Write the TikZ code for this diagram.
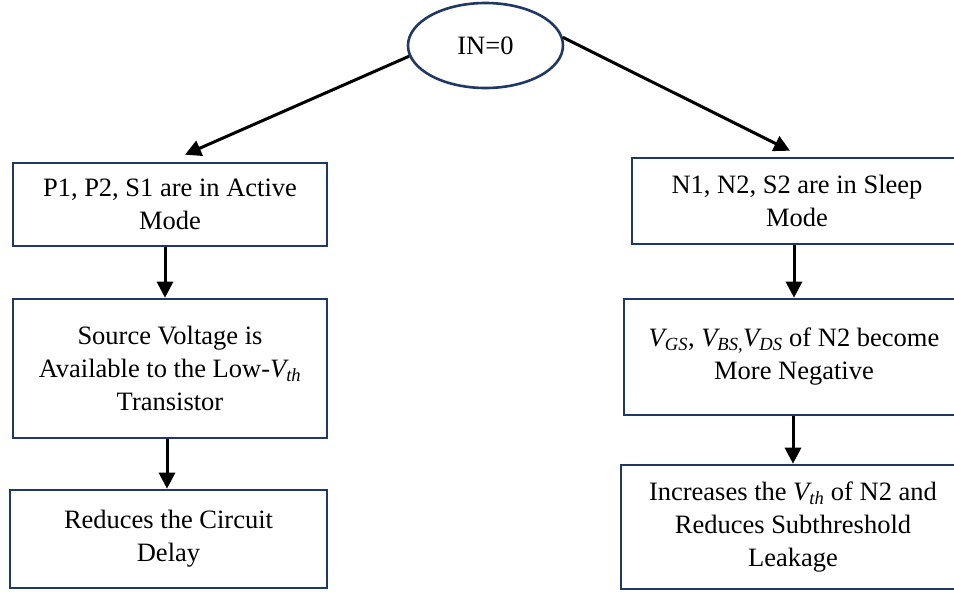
\documentclass[tikz,border=0pt]{standalone}
\usepackage{amsmath}
\usepackage{fontspec}
\setmainfont{Liberation Serif}
\usetikzlibrary{shapes.geometric,arrows.meta,calc}
\definecolor{navy}{HTML}{203864}
\newcommand{\vsub}[1]{$\text{\itshape V}_{\text{\itshape #1}}$}
\begin{document}
\begin{tikzpicture}[x=1pt,y=-1pt,
  box/.style={draw=navy,line width=2.6pt,rectangle,inner sep=0pt,align=center,font=\fontsize{26.5}{33}\selectfont},
  arr/.style={-{Triangle[width=16pt,length=16pt]},line width=3pt,black}]
\useasboundingbox (0,0) rectangle (954,592);
\clip (0,0) rectangle (954,592);
\node[box, ellipse, minimum width=155pt, minimum height=85pt] (in) at (485.5,45.5) {IN=0};
\node[box, minimum width=314pt, minimum height=83pt] (l1) at (170,204.5) {P1, P2, S1 are in Active\\Mode};
\node[box, minimum width=314pt, minimum height=139pt] (l2) at (170,368.5) {Source Voltage is\\Available to the Low-\vsub{th}\\Transistor};
\node[box, minimum width=317pt, minimum height=98pt] (l3) at (168.5,539) {Reduces the Circuit\\Delay};
\node[box, minimum width=330pt, minimum height=86pt] (r1) at (797,201) {N1, N2, S2 are in Sleep\\Mode};
\node[box, minimum width=340pt, minimum height=116pt] (r2) at (794,357) {\vsub{GS}, \vsub{BS,}\vsub{DS} of N2 become\\More Negative};
\node[box, minimum width=344pt, minimum height=124pt] (r3) at (793,527) {Increases the \vsub{th} of N2 and\\Reduces Subthreshold\\Leakage};
\draw[arr] (in.188) -- ([xshift=15pt,yshift=7pt]l1.north);
\draw[arr] (in.6) -- ([xshift=-7pt,yshift=6pt]r1.north);
\draw[arr] ([xshift=-5pt]l1.south) -- ([xshift=-5pt]l2.north);
\draw[arr] ([xshift=-3pt]l2.south) -- ([xshift=-1.5pt]l3.north);
\draw[arr] ([xshift=-3pt]r1.south) -- (r2.north);
\draw[arr] ([xshift=-1pt]r2.south) -- (r3.north);
\end{tikzpicture}
\end{document}
